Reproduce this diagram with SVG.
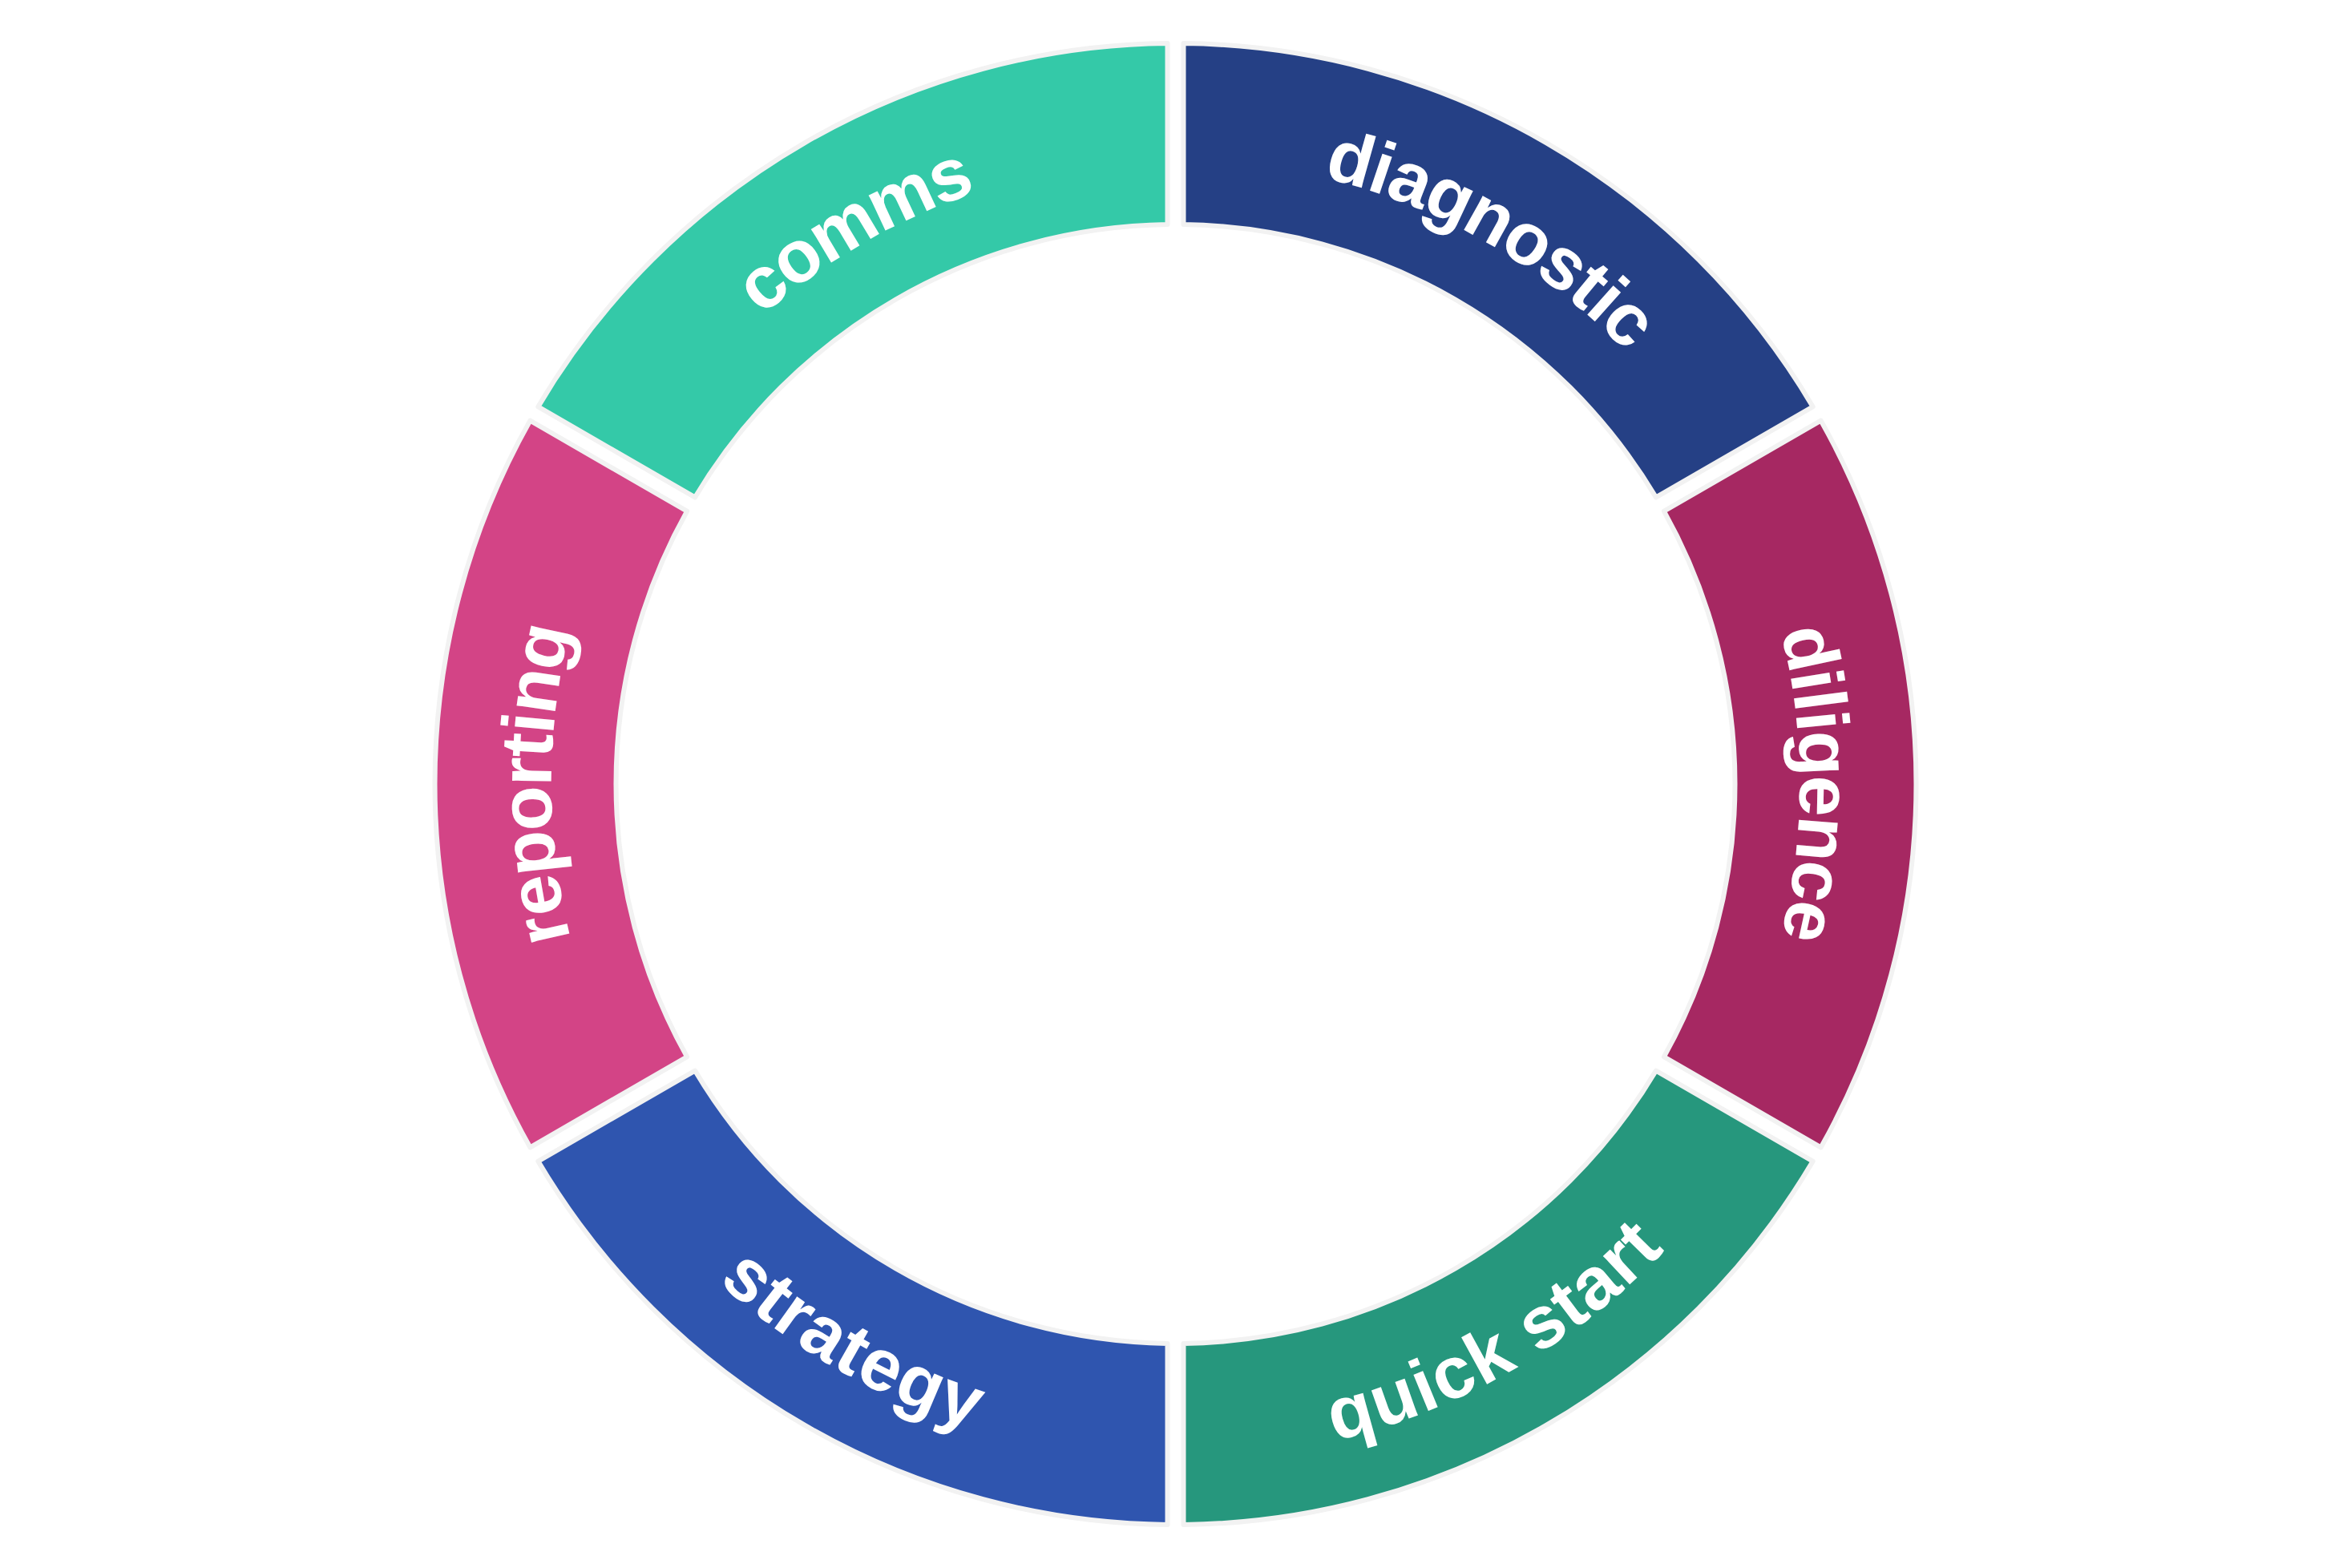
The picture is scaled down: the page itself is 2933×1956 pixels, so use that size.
<svg xmlns="http://www.w3.org/2000/svg" width="2933" height="1956" viewBox="0 0 2933 1956">
<style>
.seg{stroke:#f2f2f2;stroke-width:6;stroke-linejoin:round}
.lbl{font-family:"Liberation Sans",Arial,sans-serif;font-weight:bold;font-size:92px;fill:#ffffff}
</style>
<defs>
<path id="p-diagnostic" d="M1466.5,167 A811,811 0 0 1 2168.847,572.5"/>
<path id="p-diligence" d="M2168.847,572.5 A811,811 0 0 1 2168.847,1383.5"/>
<path id="p-quickstart" d="M1466.5,1789 A811,811 0 0 0 2168.847,1383.5"/>
<path id="p-strategy" d="M764.154,1383.5 A811,811 0 0 0 1466.5,1789"/>
<path id="p-reporting" d="M764.154,1383.5 A811,811 0 0 1 764.154,572.5"/>
<path id="p-comms" d="M764.154,572.5 A811,811 0 0 1 1466.5,167"/>
</defs>
<rect width="2933" height="1956" fill="#ffffff"/>
<g id="diagnostic">
<path class="seg" fill="#254085" d="M1476.5,54.054 A924,924 0 0 1 2261.660,507.367 L2065.923,620.376 A698,698 0 0 0 1476.5,280.072 Z"/>
<text class="lbl" dy="0.35em"><textPath href="#p-diagnostic" startOffset="50%" text-anchor="middle">diagnostic</textPath></text>
</g>
<g id="diligence">
<path class="seg" fill="#a62862" d="M2271.660,524.687 A924,924 0 0 1 2271.660,1431.313 L2075.923,1318.304 A698,698 0 0 0 2075.923,637.696 Z"/>
<text class="lbl" dy="0.35em"><textPath href="#p-diligence" startOffset="50%" text-anchor="middle">diligence</textPath></text>
</g>
<g id="quickstart">
<path class="seg" fill="#26977d" d="M2261.660,1448.633 A924,924 0 0 1 1476.5,1901.946 L1476.5,1675.928 A698,698 0 0 0 2065.923,1335.624 Z"/>
<text class="lbl" dy="0.35em"><textPath href="#p-quickstart" startOffset="50%" text-anchor="middle">quick start</textPath></text>
</g>
<g id="strategy">
<path class="seg" fill="#2f55af" d="M1456.5,1901.946 A924,924 0 0 1 671.340,1448.633 L867.077,1335.624 A698,698 0 0 0 1456.5,1675.928 Z"/>
<text class="lbl" dy="0.35em"><textPath href="#p-strategy" startOffset="50%" text-anchor="middle">strategy</textPath></text>
</g>
<g id="reporting">
<path class="seg" fill="#d34486" d="M661.340,1431.313 A924,924 0 0 1 661.340,524.687 L857.077,637.696 A698,698 0 0 0 857.077,1318.304 Z"/>
<text class="lbl" dy="0.35em"><textPath href="#p-reporting" startOffset="50%" text-anchor="middle">reporting</textPath></text>
</g>
<g id="comms">
<path class="seg" fill="#34c9a8" d="M671.340,507.367 A924,924 0 0 1 1456.5,54.054 L1456.5,280.072 A698,698 0 0 0 867.077,620.376 Z"/>
<text class="lbl" dy="0.35em"><textPath href="#p-comms" startOffset="50%" text-anchor="middle">comms</textPath></text>
</g>
</svg>
